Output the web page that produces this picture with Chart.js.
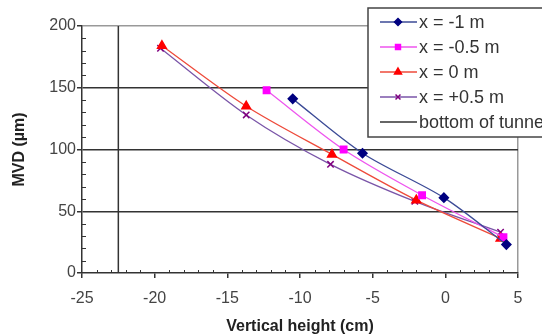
<!DOCTYPE html>
<html>
<head>
<meta charset="utf-8">
<script src="https://cdn.jsdelivr.net/npm/chart.js@4/dist/chart.umd.min.js"></script>
<style>
  html, body { margin: 0; padding: 0; background: #fff; }
  #wrap { width: 542px; height: 336px; }
</style>
</head>
<body>
<div id="wrap"><canvas id="myChart" width="542" height="336"></canvas></div>
<script>
// values
var seriesLabels = ['x = -1 m', 'x = -0.5 m', 'x = 0 m', 'x = +0.5 m'];
var heightNeg1 = [-10.5, -5.7, -0.1, 4.2];
var mvdNeg1 = [141, 97, 61, 23];
var heightNeg05 = [-12.3, -7.0, -1.6, 4.0];
var mvdNeg05 = [148, 100, 63, 29];
var height0 = [-19.5, -13.7, -7.8, -2.0, 3.8];
var mvd0 = [184, 135, 96, 59, 28];
var heightPos05 = [-19.6, -13.7, -7.9, -2.1, 3.8];
var mvdPos05 = [182, 128, 88, 58, 33];
var tunnelLabel = 'bottom of tunnel';
var tunnelHeight = [-22.5, -22.5];
var tunnelMvd = [0, 200];
var xTicks = [-25, -20, -15, -10, -5, 0, 5];
var yTicks = [0, 50, 100, 150, 200];

var FONT = '"Liberation Sans", Arial, sans-serif';

function toPoints(xs, ys) {
    return xs.map(function(v, i) { return { x: v, y: ys[i] }; });
}

var styles = [
    { line: '#3b4a96', point: '#000080', shape: 'rectRot', r: 4.5 },
    { line: '#ee55ee', point: '#ff00ff', shape: 'rect', r: 4.5 },
    { line: '#ee4a3a', point: '#ff0000', shape: 'triangle', r: 5 },
    { line: '#7a55a8', point: '#800080', shape: 'crossRot', r: 4.5 }
];
var series = [[heightNeg1, mvdNeg1], [heightNeg05, mvdNeg05], [height0, mvd0], [heightPos05, mvdPos05]];

var datasets = series.map(function(s, i) {
    var st = styles[i];
    return {
        label: seriesLabels[i],
        data: toPoints(s[0], s[1]),
        borderColor: st.line,
        borderWidth: 1.3,
        backgroundColor: st.point,
        pointBackgroundColor: st.point,
        pointBorderColor: st.point,
        pointBorderWidth: 1.5,
        pointStyle: st.shape,
        pointRadius: st.r,
        tension: 0.3,
        showLine: true
    };
});
datasets.push({
    label: tunnelLabel,
    data: toPoints(tunnelHeight, tunnelMvd),
    borderColor: '#333',
    borderWidth: 1.5,
    pointRadius: 0,
    showLine: true,
    tension: 0
});

// minor ticks (inside) + legend box
var extras = {
    id: 'extras',
    afterDraw: function(chart) {
        var ctx = chart.ctx;
        var xs = chart.scales.x, ys = chart.scales.y;
        var a = chart.chartArea;
        ctx.save();
        ctx.strokeStyle = '#333';
        ctx.lineWidth = 1;
        for (var v = -25; v <= 5; v++) {
            if (v % 5 === 0) continue;
            var px = Math.round(xs.getPixelForValue(v)) + 0.5;
            ctx.beginPath(); ctx.moveTo(px, a.bottom); ctx.lineTo(px, a.bottom - 3); ctx.stroke();
        }
        for (var w = 0; w <= 200; w += 10) {
            if (w % 50 === 0) continue;
            var py = Math.round(ys.getPixelForValue(w)) + 0.5;
            ctx.beginPath(); ctx.moveTo(a.left, py); ctx.lineTo(a.left + 4, py); ctx.stroke();
        }

        // legend
        var lx = 368, ly = 8, lw = 200, lh = 129;
        ctx.fillStyle = '#fff';
        ctx.fillRect(lx, ly, lw, lh);
        ctx.strokeStyle = '#444';
        ctx.lineWidth = 1.5;
        ctx.strokeRect(lx, ly, lw, lh);
        ctx.font = '18px ' + FONT;
        ctx.textBaseline = 'middle';
        ctx.textAlign = 'left';
        chart.data.datasets.forEach(function(ds, i) {
            var y = 22 + i * 25;
            ctx.strokeStyle = ds.borderColor;
            ctx.lineWidth = 1.5;
            ctx.beginPath(); ctx.moveTo(380, y); ctx.lineTo(417, y); ctx.stroke();
            if (ds.pointRadius > 0) {
                ctx.fillStyle = ds.pointBackgroundColor;
                ctx.strokeStyle = ds.pointBorderColor;
                ctx.lineWidth = 1.5;
                Chart.helpers.drawPoint(ctx, { pointStyle: ds.pointStyle, radius: ds.pointRadius - 1, rotation: 0, borderWidth: 1.5 }, 398, y);
            }
            ctx.fillStyle = '#333';
            ctx.fillText(ds.label, 419, y + 1);
        });
        ctx.restore();
    }
};

var ctx = document.getElementById('myChart').getContext('2d');
var chart = new Chart(ctx, {
    type: 'scatter',
    data: { datasets: datasets },
    options: {
        responsive: false,
        animation: false,
        layout: { padding: { top: 26, right: 24, left: 0, bottom: 0 } },
        plugins: { legend: { display: false }, tooltip: { enabled: false } },
        scales: {
            x: {
                type: 'linear',
                min: -25, max: 5,
                afterBuildTicks: function(s) { s.ticks = xTicks.map(function(v) { return { value: v }; }); },
                afterFit: function(s) { s.height = 63; },
                ticks: { color: '#444', padding: 11, font: { size: 16, family: FONT } },
                grid: {
                    color: function(c) { return c.tick && c.tick.value === 5 ? '#999' : 'rgba(0,0,0,0)'; },
                    tickColor: '#333', tickLength: 5, lineWidth: 1.5
                },
                border: { color: '#333', width: 1.5 },
                title: { display: true, text: 'Vertical height (cm)', color: '#222', padding: { top: 8, bottom: 0 },
                    font: { size: 16, weight: 'bold', family: FONT } }
            },
            y: {
                min: 0, max: 200,
                afterBuildTicks: function(s) { s.ticks = yTicks.map(function(v) { return { value: v }; }); },
                afterFit: function(s) { s.width = 82; },
                ticks: { color: '#444', padding: 1, font: { size: 16, family: FONT } },
                grid: {
                    color: function(c) {
                        if (!c.tick) return 'rgba(0,0,0,0)';
                        if (c.tick.value === 0) return 'rgba(0,0,0,0)';
                        if (c.tick.value === 200) return '#999';
                        return '#333';
                    },
                    tickColor: '#333', tickLength: 5, lineWidth: 1.5
                },
                border: { color: '#333', width: 1.5 },
                title: { display: true, text: 'MVD (µm)', color: '#222', padding: { top: 10, bottom: 0 },
                    font: { size: 16, weight: 'bold', family: FONT } }
            }
        }
    },
    plugins: [extras]
});
</script>
</body>
</html>
